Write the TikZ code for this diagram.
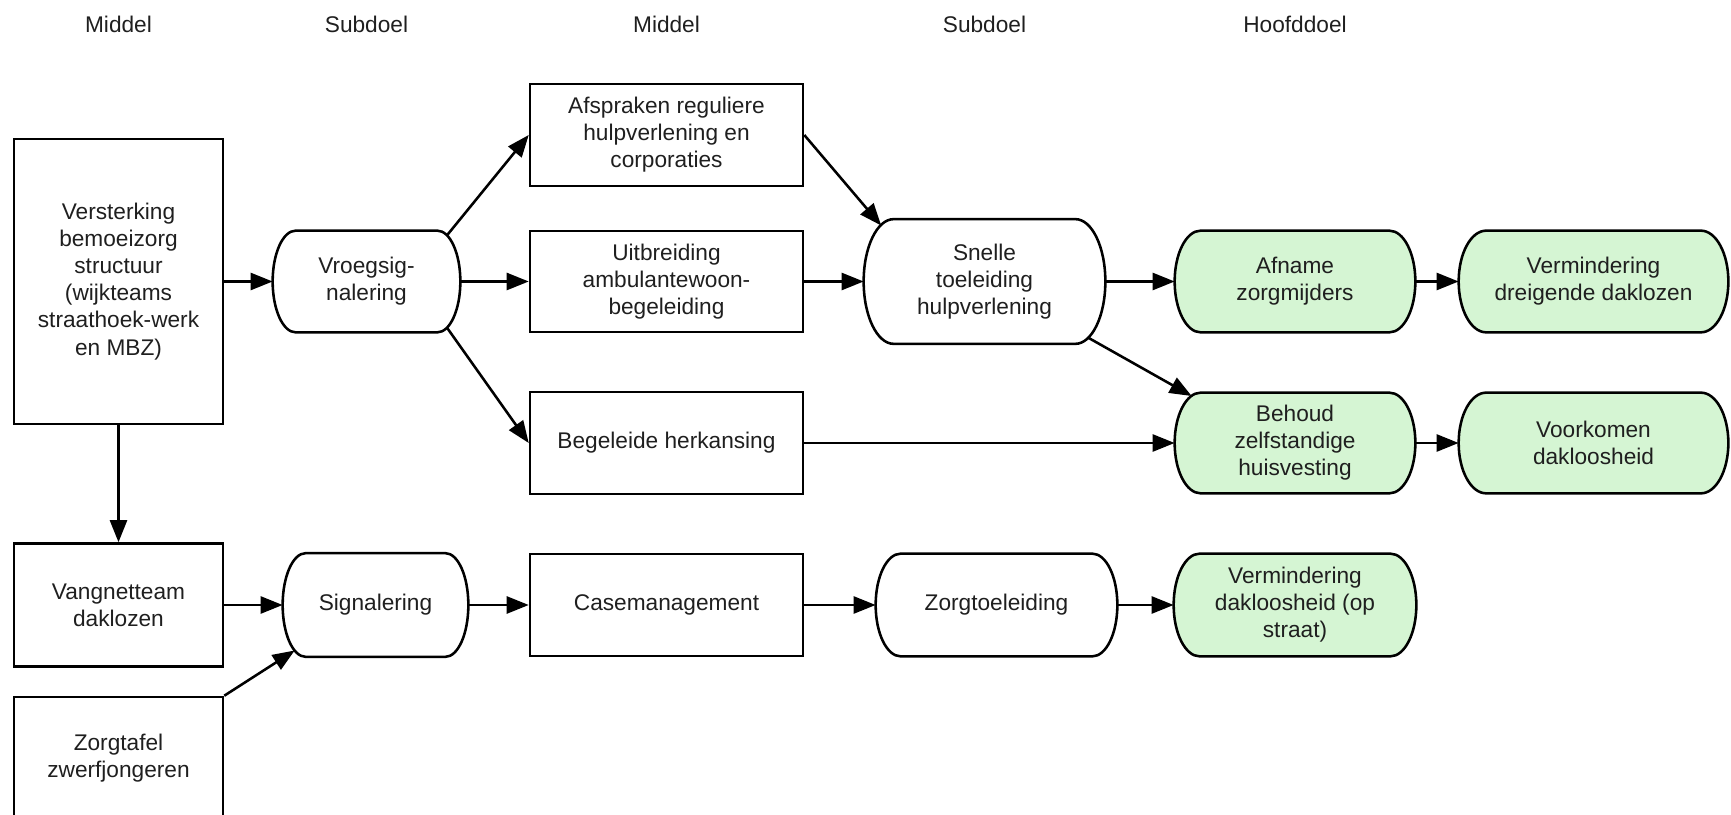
\documentclass[tikz,border=0pt]{standalone}
\usepackage{fontspec}
\setmainfont{Liberation Sans}
\usetikzlibrary{arrows.meta,shapes.misc,calc,backgrounds}
\definecolor{goalgreen}{RGB}{213,245,211}
\tikzset{
	every node/.style={font=\fontsize{12.9}{15.4}\selectfont, text=black!88, align=center},
	box/.style={draw, line width=1.45pt, rectangle, inner sep=0pt},
	term/.style={rounded rectangle, rounded rectangle arc length=105, inner sep=0pt},
	termline/.style={line width=1.45pt},
	flow/.style={line width=1.45pt, -{Triangle[length=4.4mm,width=3.4mm]}}
}

\begin{document}
\begin{tikzpicture}
			%%%%% START %%%%%
			\useasboundingbox (0, 0) rectangle (34.62, 16.28);
			
			% kolomkoppen
			\node (h1) at (2.37, 15.80) {Middel};
			\node (h2) at (7.33, 15.80) {Subdoel};
			\node (h3) at (13.33, 15.80) {Middel};
			\node (h4) at (19.69, 15.80) {Subdoel};
			\node (h5) at (25.90, 15.80) {Hoofddoel};
			
			% middelen links
			\node[box, minimum width=4.18cm, minimum height=5.70cm] (vers) at (2.37, 10.65) {Versterking\\bemoeizorg\\structuur\\(wijkteams\\straathoek-werk\\en MBZ)};
			\node[box, minimum width=4.18cm, minimum height=2.46cm] (vang) at (2.37, 4.18) {Vangnetteam\\daklozen};
			\node[box, minimum width=4.18cm, minimum height=2.44cm] (ztafel) at (2.37, 1.12) {Zorgtafel\\zwerfjongeren};
			
			% subdoelen
			\node[term, minimum width=3.74cm, minimum height=2.02cm] (vroeg) at (7.33, 10.65) {Vroegsig-\\nalering};
			\node[term, minimum width=3.70cm, minimum height=2.06cm] (sign) at (7.51, 4.18) {Signalering};
			
			% middelen midden
			\node[box, minimum width=5.46cm, minimum height=2.04cm] (afspr) at (13.33, 13.58) {Afspraken reguliere\\hulpverlening en\\corporaties};
			\node[box, minimum width=5.46cm, minimum height=2.02cm] (uitbr) at (13.33, 10.65) {Uitbreiding\\ambulantewoon-\\begeleiding};
			\node[box, minimum width=5.46cm, minimum height=2.04cm] (begel) at (13.33, 7.42) {Begeleide herkansing};
			\node[box, minimum width=5.46cm, minimum height=2.04cm] (case) at (13.33, 4.18) {Casemanagement};
			
			% subdoelen rechts
			\node[term, minimum width=4.82cm, minimum height=2.48cm] (snel) at (19.69, 10.65) {Snelle\\toeleiding\\hulpverlening};
			\node[term, minimum width=4.82cm, minimum height=2.04cm] (zorgt) at (19.93, 4.18) {Zorgtoeleiding};
			
			% hoofddoelen
			\node[term, minimum width=4.80cm, minimum height=2.02cm] (afname) at (25.90, 10.65) {Afname\\zorgmijders};
			\node[term, minimum width=4.80cm, minimum height=2.00cm] (behoud) at (25.90, 7.42) {Behoud\\zelfstandige\\huisvesting};
			\node[term, minimum width=4.84cm, minimum height=2.04cm] (vstraat) at (25.90, 4.18) {Vermindering\\dakloosheid (op\\straat)};
			\node[term, minimum width=5.38cm, minimum height=2.02cm] (vdreig) at (31.87, 10.65) {Vermindering\\dreigende daklozen};
			\node[term, minimum width=5.38cm, minimum height=2.00cm] (voork) at (31.87, 7.42) {Voorkomen\\dakloosheid};
			
			% omtrek van de afgeronde vormen, achter de tekst
			\begin{scope}[on background layer]
				\foreach \t/\c/\a in {vroeg/white/0.46, sign/white/0.46, snel/white/0.6, zorgt/white/0.5, afname/goalgreen/0.52, behoud/goalgreen/0.52, vstraat/goalgreen/0.52, vdreig/goalgreen/0.55, voork/goalgreen/0.55}
					\draw[termline, fill=\c] let \p1=(\t.north), \p2=(\t.south), \p3=(\t.west), \p4=(\t.east) in
						({\x3+\a cm}, \y1) -- ({\x4-\a cm}, \y1) arc[start angle=90, end angle=-90, x radius=\a cm, y radius={(\y1-\y2)/2}]
						-- ({\x3+\a cm}, \y2) arc[start angle=270, end angle=90, x radius=\a cm, y radius={(\y1-\y2)/2}] -- cycle;
			\end{scope}
			
			% pijlen
			\draw[flow] (vers.east) -- (vroeg.west);
			\draw[flow] (vers.south) -- (vang.north);
			\draw[flow] ($(vroeg.east)+(-0.27, 0.92)$) -- (afspr.west);
			\draw[flow] (vroeg.east) -- (uitbr.west);
			\draw[flow] ($(vroeg.east)+(-0.27, -0.92)$) -- (begel.west);
			\draw[flow] (afspr.east) -- ($(snel.west)+(0.35, 1.12)$);
			\draw[flow] (uitbr.east) -- (snel.west);
			\draw[flow] (snel.east) -- (afname.west);
			\draw[flow] ($(snel.east)+(-0.35, -1.12)$) -- ($(behoud.west)+(0.34, 0.94)$);
			\draw[flow] (begel.east) -- (behoud.west);
			\draw[flow] (afname.east) -- (vdreig.west);
			\draw[flow] (behoud.east) -- (voork.west);
			
			\draw[flow] (vang.east) -- (sign.west);
			\draw[flow] (ztafel.north east) -- ($(sign.west)+(0.24, -0.91)$);
			\draw[flow] (sign.east) -- (case.west);
			\draw[flow] (case.east) -- (zorgt.west);
			\draw[flow] (zorgt.east) -- (vstraat.west);
			
			%%%%% END %%%%%
\end{tikzpicture}
\end{document}
